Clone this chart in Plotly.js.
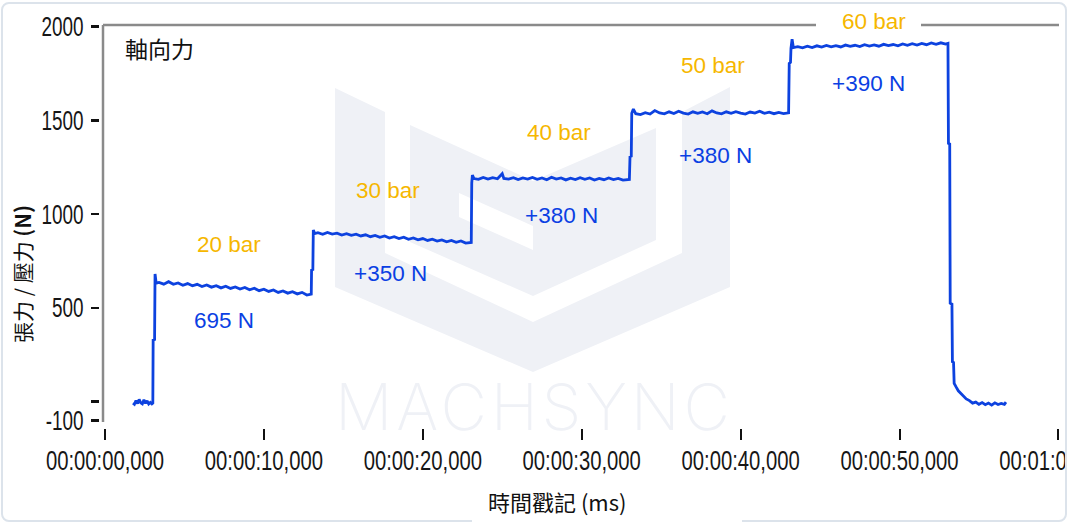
<!DOCTYPE html>
<html>
<head>
<meta charset="utf-8">
<script src="https://cdn.plot.ly/plotly-3.0.1.min.js"></script>
<style>
  html, body { margin:0; padding:0; background:#fff; }
  body { width:1069px; height:529px; position:relative; overflow:hidden; }
  #wm { position:absolute; left:0; top:0; z-index:0; }
  #plot { position:absolute; left:0; top:0; width:1069px; height:529px; z-index:1; }
  #rcover { position:absolute; left:1067px; top:0; width:4px; height:529px; background:#fff; z-index:2; }
  #card { position:absolute; left:1px; top:2px; width:1062px; height:516px; border:2px solid #dce3eb; border-radius:8px; pointer-events:none; z-index:3; }
  #gap { position:absolute; left:472px; top:517px; width:270px; height:7px; background:#fff; z-index:4; }
</style>
</head>
<body>
<svg id="wm" width="1069" height="529" xmlns="http://www.w3.org/2000/svg">
  <g fill="#eff1f6">
    <polygon points="335,88 385,112 385,253 533,322 682,253 682,112 730,87 730,287 533,372 335,287"/>
    <polygon points="410,125 533,181 656,128 656,240 533,296 410,242"/>
  </g>
  <g fill="#ffffff">
    <polygon points="459,193 533,226 533,250 459,217"/>
  </g>
  <text x="335" y="430" textLength="395" lengthAdjust="spacing" font-family="Inter, Lato, sans-serif" font-weight="200" font-size="64" fill="#eff1f6">MACHSYNC</text>
</svg>
<div id="plot"></div>
<div id="rcover"></div>
<div id="card"></div>
<div id="gap"></div>
<script>
// ---- data ----
const timeSec = [
  1.76, 1.85, 1.95, 2.05, 2.15, 2.25, 2.35, 2.45, 2.55, 2.65, 2.75, 2.85, 2.95, 3.01,
  3.03, 3.12, 3.15, 3.22,
  3.4, 3.7, 4.0, 4.3, 4.6, 4.9, 5.2, 5.5, 5.8, 6.1, 6.4, 6.7, 7.0, 7.3, 7.6, 7.9, 8.2, 8.5, 8.8,
  9.1, 9.4, 9.7, 10.0, 10.3, 10.6, 10.9, 11.2, 11.5, 11.8, 12.1, 12.4, 12.7, 12.98,
  13.0, 13.08, 13.11, 13.2,
  13.4, 13.7, 14.0, 14.3, 14.6, 14.9, 15.2, 15.5, 15.8, 16.1, 16.4, 16.7, 17.0, 17.3, 17.6, 17.9,
  18.2, 18.5, 18.8, 19.1, 19.4, 19.7, 20.0, 20.3, 20.6, 20.9, 21.2, 21.5, 21.8, 22.1, 22.4, 22.7, 23.05,
  23.08, 23.12, 23.22,
  23.5, 23.8, 24.1, 24.4, 24.7, 25.0, 25.1, 25.4, 25.7, 26.0, 26.3, 26.6, 26.9, 27.2, 27.5, 27.8,
  28.1, 28.4, 28.7, 29.0, 29.3, 29.6, 29.9, 30.2, 30.5, 30.8, 31.1, 31.4, 31.7, 32.0, 32.3, 32.6, 33.0,
  33.04, 33.12, 33.15, 33.25,
  33.4, 33.7, 34.0, 34.3, 34.6, 34.9, 35.2, 35.5, 35.8, 36.1, 36.4, 36.7, 37.0, 37.3, 37.6, 37.9,
  38.2, 38.5, 38.8, 39.1, 39.4, 39.7, 40.0, 40.3, 40.6, 40.9, 41.2, 41.5, 41.8, 42.1, 42.4, 42.7, 43.02,
  43.06, 43.14, 43.17, 43.24, 43.32,
  43.6, 43.9, 44.2, 44.5, 44.8, 45.1, 45.4, 45.7, 46.0, 46.3, 46.6, 46.9, 47.2, 47.5, 47.8, 48.1,
  48.4, 48.7, 49.0, 49.3, 49.6, 49.9, 50.2, 50.5, 50.8, 51.1, 51.4, 51.7, 52.0, 52.3, 52.6, 52.9, 53.05,
  53.08, 53.16, 53.19, 53.3, 53.33, 53.4, 53.44, 53.55, 53.7, 53.85, 54.0, 54.2, 54.4,
  54.6, 54.8, 55.0, 55.2, 55.4, 55.6, 55.8, 56.0, 56.2, 56.4, 56.6, 56.7
];
const forceN = [
  -8, -14, 6, -10, 12, -6, -12, 10, -9, 5, -12, -4, -12, -8,
  329, 332, 681, 632,
  636, 627, 640, 626, 633, 621, 630, 618, 626, 614, 623, 611, 619, 607, 616, 604, 612, 601, 609,
  597, 605, 592, 600, 588, 596, 583, 591, 579, 587, 575, 583, 569, 574,
  702, 705, 916, 897,
  901, 893, 903, 894, 899, 889, 896, 887, 893, 884, 890, 880, 887, 877, 884, 873,
  880, 870, 877, 866, 873, 863, 870, 860, 867, 857, 863, 853, 860, 850, 857, 846, 849,
  1166, 1209, 1190,
  1186, 1196, 1187, 1195, 1189, 1216, 1191, 1187, 1195, 1185, 1193, 1187, 1196, 1186, 1193, 1184,
  1197, 1187, 1193, 1183, 1192, 1185, 1195, 1186, 1193, 1182, 1191, 1184, 1193, 1185, 1191, 1182, 1185,
  1306, 1310, 1538, 1561,
  1536, 1531, 1541, 1534, 1553, 1540, 1535, 1546, 1537, 1549, 1539, 1534, 1546, 1538, 1545, 1536,
  1551, 1540, 1535, 1546, 1538, 1547, 1539, 1534, 1545, 1539, 1549, 1538, 1544, 1536, 1543, 1537, 1541,
  1804, 1810, 1885, 1933, 1889,
  1894, 1887, 1896, 1889, 1898, 1891, 1900, 1893, 1899, 1892, 1902, 1895, 1901, 1894, 1904, 1897,
  1903, 1896, 1906, 1899, 1905, 1898, 1908, 1901, 1909, 1902, 1911, 1904, 1913, 1906, 1914, 1907, 1911,
  1378, 1374, 525, 520, 213, 209, 98, 80, 58, 45, 30, 15, 6,
  -8, -2, -14, -5, -16, -7, -18, -6, -15, -9, -14, -2
];
const xTickVals = [0, 10, 20, 30, 40, 50, 60];
const xTickText = ['00:00:00,000', '00:00:10,000', '00:00:20,000', '00:00:30,000', '00:00:40,000', '00:00:50,000', '00:01:00,000'];
const yTickVals = [-100, 0, 500, 1000, 1500, 2000];
const yTickText = ['-100', '', '500', '1000', '1500', '2000'];
const pressureLabels = ['20 bar', '30 bar', '40 bar', '50 bar', '60 bar'];
const forceLabels = ['695 N', '+350 N', '+380 N', '+380 N', '+390 N'];
const panelLabel = '軸向力';
const xTitle = '時間戳記 (ms)';
const yTitle = '張力 / 壓力 <b>(N)</b>';

// ---- layout / styling (label positions in pixel space of the 1069x529 page) ----
const L = 100, R = 1060, T = 25, B = 428;
const px = p => (p - L) / (R - L);
const py = p => (B - p) / (B - T);
const pressurePx = [[228.5, 244], [388.3, 190], [559, 132.3], [713.2, 65], [873.5, 21.7]];
const forcePx = [[223.5, 320.7], [390.5, 273.3], [561.7, 215], [715, 155], [868.7, 83.3]];

const annFont = 'Liberation Sans, Arial, sans-serif';
const cjkFont = 'Noto Sans CJK TC, Noto Sans CJK SC, sans-serif';
const tickFont = 'Liberation Sans, Arial, sans-serif';

const annotations = [];
pressureLabels.forEach((t, i) => annotations.push({
  x: px(pressurePx[i][0]), y: py(pressurePx[i][1]), xref: 'paper', yref: 'paper', text: t, showarrow: false,
  xanchor: 'center', yanchor: 'middle', font: {family: annFont, size: 22.5, color: '#f6b700'}
}));
forceLabels.forEach((t, i) => annotations.push({
  x: px(forcePx[i][0]), y: py(forcePx[i][1]), xref: 'paper', yref: 'paper', text: t, showarrow: false,
  xanchor: 'center', yanchor: 'middle', font: {family: annFont, size: 22.5, color: '#0b3fe3'}
}));
annotations.push({
  x: px(159), y: py(48), xref: 'paper', yref: 'paper', text: panelLabel, showarrow: false,
  xanchor: 'center', yanchor: 'middle', font: {family: cjkFont, size: 23, color: '#111'}
});
annotations.push({
  x: px(557), y: py(501), xref: 'paper', yref: 'paper', text: xTitle, showarrow: false,
  xanchor: 'center', yanchor: 'middle', font: {family: cjkFont, size: 22, color: '#111'}
});
annotations.push({
  x: px(22), y: py(274), xref: 'paper', yref: 'paper', text: yTitle, showarrow: false,
  textangle: -90, xanchor: 'center', yanchor: 'middle', font: {family: cjkFont, size: 21, color: '#111'}
});

const frameColor = '#8a8a8a';
const shapes = [
  {type: 'line', xref: 'paper', yref: 'paper', x0: px(103), x1: px(103), y0: py(422), y1: 1, line: {color: frameColor, width: 2.5}},
  {type: 'line', xref: 'paper', yref: 'paper', x0: px(103), x1: px(816), y0: 1, y1: 1, line: {color: frameColor, width: 2.5}},
  {type: 'line', xref: 'paper', yref: 'paper', x0: px(921), x1: px(1059), y0: 1, y1: 1, line: {color: frameColor, width: 2.5}}
];

const trace = {
  x: timeSec, y: forceN, type: 'scatter', mode: 'lines',
  line: {color: '#0d42df', width: 2.8}, hoverinfo: 'skip'
};

const layout = {
  width: 1069, height: 529,
  margin: {l: L, r: 1069 - R, t: T, b: 529 - B, pad: 0},
  paper_bgcolor: 'rgba(0,0,0,0)', plot_bgcolor: 'rgba(0,0,0,0)',
  showlegend: false,
  xaxis: {
    range: [-0.3147, 60.10], tickmode: 'array', tickvals: xTickVals, ticktext: xTickText,
    tickangle: 0,
    ticks: 'outside', ticklen: 11, tickwidth: 2, tickcolor: '#111', ticklabeloverflow: 'allow',
    ticklabelstandoff: -2,
    showgrid: false, zeroline: false, showline: false,
    tickfont: {family: tickFont, size: 27, color: '#161616'}
  },
  yaxis: {
    range: [-140.3, 2009.1], tickmode: 'array', tickvals: yTickVals, ticktext: yTickText,
    tickangle: 0,
    ticks: 'outside', ticklen: 8, tickwidth: 2.5, tickcolor: '#111', ticklabeloverflow: 'allow',
    ticklabelstandoff: 2,
    showgrid: false, zeroline: false, showline: false,
    tickfont: {family: tickFont, size: 27, color: '#161616'}
  },
  annotations: annotations,
  shapes: shapes
};

function condense(sel, factor) {
  document.querySelectorAll(sel).forEach(el => {
    const w = el.getComputedTextLength();
    if (w > 0) {
      el.setAttribute('textLength', (w * factor).toFixed(2));
      el.setAttribute('lengthAdjust', 'spacingAndGlyphs');
    }
  });
}

Plotly.newPlot('plot', [trace], layout, {displayModeBar: false, staticPlot: true}).then(() => {
  condense('#plot .xtick text', 0.75);
  condense('#plot .ytick text', 0.70);
});
</script>
</body>
</html>
